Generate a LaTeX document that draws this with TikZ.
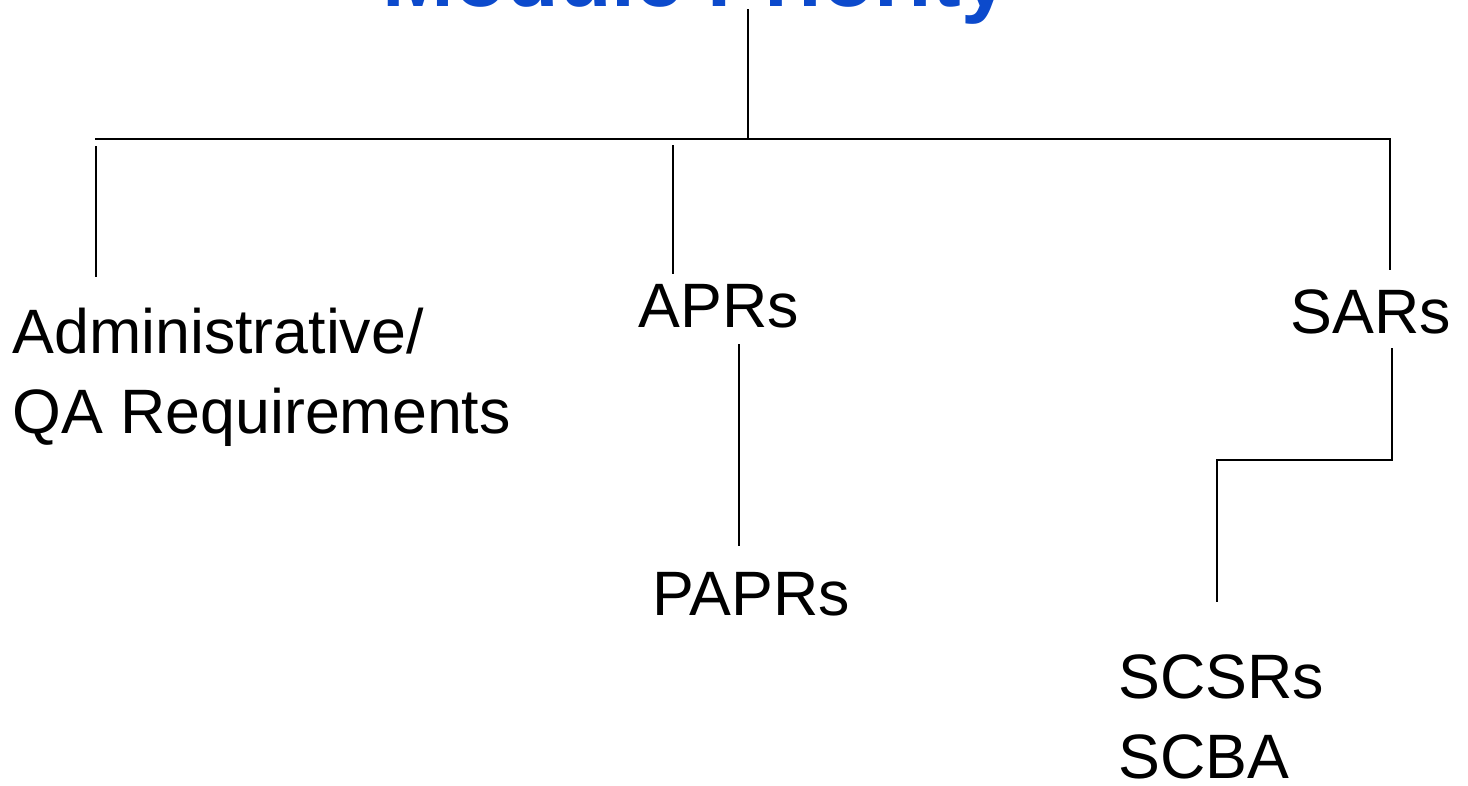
\documentclass[tikz,border=0pt]{standalone}
\usepackage{fontspec}
\setmainfont{Liberation Sans}
\usetikzlibrary{positioning}
\definecolor{titleblue}{RGB}{12,74,204}

\begin{document}
\begin{tikzpicture}[
    x=0.02cm, y=-0.02cm,
    item/.style={inner sep=0pt, anchor=base west, align=left,
      font=\fontsize{35.7}{45.4}\selectfont},
    link/.style={line width=1pt}
    ]
    \useasboundingbox (0,0) rectangle (1468,785);

    \node[inner sep=0pt, anchor=base west, text=titleblue,
      font=\fontsize{49}{55}\selectfont\bfseries] (title) at (382,6) {Module Priority};

    % multi-line items sit on their last line
    \node[item] (admin) at (12,433) {Administrative/\\QA Requirements};
    \node[item] (aprs) at (638,327) {APRs};
    \node[item] (paprs) at (652,615) {PAPRs};
    \node[item] (sars) at (1290,333) {SARs};
    \node[item] (scsrs) at (1118,778) {SCSRs\\SCBA};

    % tree junctions
    \coordinate (root) at (748,9);
    \coordinate (bus) at (748,139);
    \coordinate (busL) at (95,139);
    \coordinate (busR) at (1390,139);
    \coordinate (adminA) at (96,146);
    \coordinate (adminB) at (96,277);
    \coordinate (aprsA) at (673,145);
    \coordinate (aprsB) at (673,274);
    \coordinate (paprsA) at (739,344);
    \coordinate (paprsB) at (739,546);
    \coordinate (sarsB) at (1390,270);
    \coordinate (sarsC) at (1392,348);
    \coordinate (elbow) at (1392,460);
    \coordinate (elbowL) at (1217,460);
    \coordinate (scsrsA) at (1217,602);

    \draw[link] (root) -- (bus);
    \draw[link] (busL) -- (busR) -- (sarsB);
    \path[link]
    (adminA) edge (adminB)
    (aprsA) edge (aprsB)
    (paprsA) edge (paprsB)
    ;
    \draw[link] (sarsC) -- (elbow) -- (elbowL) -- (scsrsA);

  \end{tikzpicture}
\end{document}
